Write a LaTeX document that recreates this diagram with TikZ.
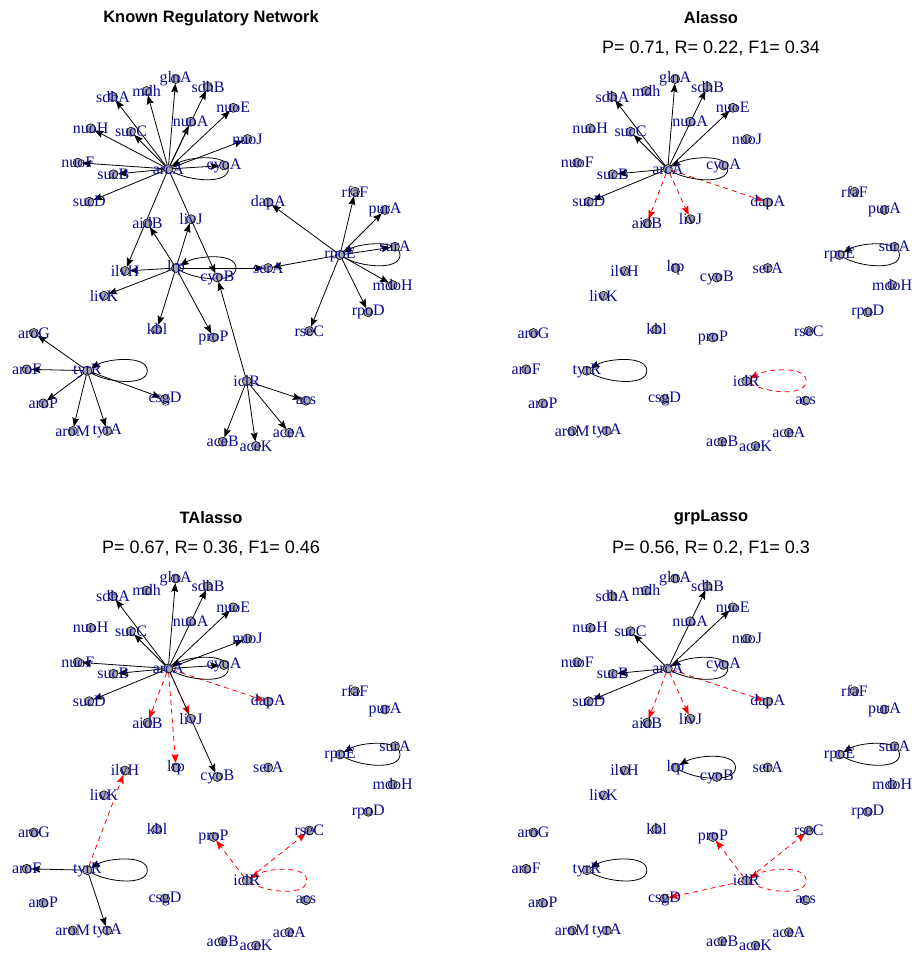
\documentclass[tikz,border=0pt]{standalone}
\usepackage{fontspec}
\setmainfont{Liberation Serif}
\newfontfamily\titlefont{Liberation Sans}
\usetikzlibrary{arrows.meta,calc}
\pgfdeclarelayer{edges}
\pgfsetlayers{edges,main}
\definecolor{lblblue}{RGB}{10,10,145}
\definecolor{vtxgray}{RGB}{168,168,168}
\tikzset{
  vtx/.style={circle, draw=black, line width=0.6pt, fill=vtxgray, minimum size=9pt, inner sep=0pt, outer sep=0pt},
  lbl/.style={text=lblblue, font=\fontsize{16}{16}\selectfont, inner sep=0pt},
  tp/.style={draw=black, line width=0.8pt, -{Stealth[length=9pt,width=7pt,inset=1.5pt]}},
  fp/.style={draw=red, line width=0.8pt, dash pattern=on 5pt off 4pt, -{Stealth[length=9pt,width=7pt,inset=1.5pt]}},
  ttl/.style={font=\titlefont\bfseries\fontsize{16.5}{18}\selectfont, inner sep=0pt},
  score/.style={font=\titlefont\fontsize{18}{20}\selectfont, inner sep=0pt},
}
% all genes of one network, named <prefix><gene>
\newcommand{\placevertices}[1]{%
  \foreach \nm/\px/\py in {
    arcA/168.3/169, sdhA/113/96.7, mdh/146.7/91, glnA/175.7/79, sdhB/208/86.7,
    nuoA/190.7/121.7, nuoE/233.3/107.8, nuoJ/247.5/139, nuoH/90.7/128.3,
    sucC/131/131.7, nuoF/77.7/162.7, cyoA/224/165.5, sucB/113.3/174.3,
    sucD/89.3/201.7, aidB/147.5/223.3, livJ/191/219.2, dapA/268.3/202.3,
    rfaF/355/191.7, purA/385/210, surA/395/246.7, rpoE/340/255, serA/268.2/268,
    cyoB/217.3/277.5, mdoH/392.7/285, rpoD/368.3/312.3, rseC/309.3/331,
    proP/213.5/337.5, ilvH/125/271, lrp/176/268, livK/104/295.8, kbl/157/329.2,
    aroG/34/333, aroF/26.7/369.3, tyrR/87.3/370.7, csgD/165/399, aroP/43.3/403.3,
    aroM/72.7/431, tyrA/107.3/431, iclR/246.7/381, acs/306/400.7,
    aceA/289.3/432.7, aceB/222.7/441.7, aceK/256/446}{%
    \node[vtx, label={[lbl]center:\nm}] (#1\nm) at (\px,\py) {};}%
}
% style, prefix, regulator, targets
\newcommand{\fan}[4]{\foreach \tg in {#4} {\draw[#1] (#2#3) -- (#2\tg);}}
% style, node: self-regulation loop to the right of the gene
\newcommand{\selfloop}[2]{%
  \draw[#1] (#2) .. controls ($(#2)+(20,12)$) and ($(#2)+(60,16)$) .. ($(#2)+(60,0)$)
    .. controls ($(#2)+(60,-16)$) and ($(#2)+(20,-12)$) .. (#2);}
\begin{document}
\begin{tikzpicture}[x=1pt, y=-1pt]
\useasboundingbox (0,0) rectangle (912,953);

% titles
\node[ttl] (t1) at (211,18) {Known Regulatory Network};
\node[ttl] (t2) at (711,18) {Alasso};
\node[score] (s2) at (711,48) {P= 0.71, R= 0.22, F1= 0.34};
\node[ttl] (t3) at (211,518) {TAlasso};
\node[score] (s3) at (211,548) {P= 0.67, R= 0.36, F1= 0.46};
\node[ttl] (t4) at (711,518) {grpLasso};
\node[score] (s4) at (711,548) {P= 0.56, R= 0.2, F1= 0.3};

% genes
\begin{scope}\placevertices{k-}\end{scope}
\begin{scope}[shift={(499.5,0)}]\placevertices{a-}\end{scope}
\begin{scope}[shift={(0,499.5)}]\placevertices{t-}\end{scope}
\begin{scope}[shift={(499.5,499.5)}]\placevertices{g-}\end{scope}

\begin{pgfonlayer}{edges}
\fill[white] (0,0) rectangle (912,953);
% known regulatory network
\fan{tp}{k-}{arcA}{sdhA,mdh,glnA,sdhB,nuoA,nuoE,nuoJ,nuoH,sucC,nuoF,sucB,sucD,cyoA,ilvH,cyoB}
\selfloop{tp}{k-arcA}
\fan{tp}{k-}{lrp}{aidB,livJ,ilvH,livK,kbl,proP,serA}
\selfloop{tp}{k-lrp}
\fan{tp}{k-}{rpoE}{dapA,rfaF,purA,surA,mdoH,rpoD,rseC,serA}
\selfloop{tp}{k-rpoE}
\fan{tp}{k-}{tyrR}{aroG,aroF,aroP,aroM,tyrA,csgD}
\selfloop{tp}{k-tyrR}
\fan{tp}{k-}{iclR}{aceB,aceK,aceA,acs,cyoB}

% Alasso
\fan{fp}{a-}{arcA}{aidB,livJ,dapA}
\selfloop{fp}{a-iclR}
\fan{tp}{a-}{arcA}{sdhA,glnA,sdhB,nuoE,sucC,sucB,sucD}
\selfloop{tp}{a-arcA}
\selfloop{tp}{a-rpoE}
\selfloop{tp}{a-tyrR}

% TAlasso
\fan{fp}{t-}{arcA}{aidB,livJ,lrp,dapA}
\fan{fp}{t-}{tyrR}{ilvH}
\fan{fp}{t-}{iclR}{proP,rseC}
\selfloop{fp}{t-iclR}
\fan{tp}{t-}{arcA}{sdhA,glnA,sdhB,nuoE,nuoJ,sucC,nuoF,sucB,sucD,cyoA,cyoB}
\selfloop{tp}{t-arcA}
\selfloop{tp}{t-rpoE}
\fan{tp}{t-}{tyrR}{aroF,tyrA}
\selfloop{tp}{t-tyrR}

% grpLasso
\fan{fp}{g-}{arcA}{aidB,livJ,dapA}
\fan{fp}{g-}{iclR}{proP,rseC,csgD}
\selfloop{fp}{g-iclR}
\fan{tp}{g-}{arcA}{sdhB,nuoE,sucC,sucB,sucD}
\selfloop{tp}{g-arcA}
\selfloop{tp}{g-lrp}
\selfloop{tp}{g-rpoE}
\selfloop{tp}{g-tyrR}
\end{pgfonlayer}
\end{tikzpicture}
\end{document}
